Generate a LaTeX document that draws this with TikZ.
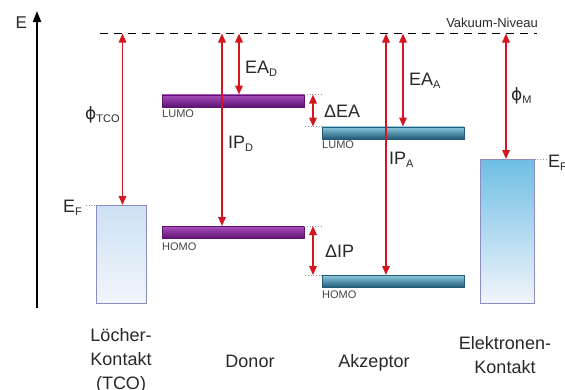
\documentclass[tikz,border=0pt]{standalone}
\usepackage{fontspec}
\setmainfont{Liberation Sans}
\newfontfamily\phifont{DejaVu Sans}
\usetikzlibrary{arrows.meta}
\definecolor{arrred}{RGB}{214,22,30}
\definecolor{txt}{RGB}{40,40,40}
\definecolor{smalltxt}{RGB}{70,70,70}
\definecolor{purTop}{RGB}{170,80,190}
\definecolor{purMid}{RGB}{140,40,160}
\definecolor{purBot}{RGB}{95,20,115}
\definecolor{tealTop}{RGB}{140,205,225}
\definecolor{tealMid}{RGB}{70,150,185}
\definecolor{tealBot}{RGB}{35,90,120}
\definecolor{boxBorder}{RGB}{140,140,190}
\definecolor{tcoTop}{RGB}{205,225,243}
\definecolor{tcoBot}{RGB}{242,245,251}
\definecolor{ekTop}{RGB}{110,190,228}
\definecolor{ekMid}{RGB}{165,210,238}
\definecolor{ekBot}{RGB}{242,245,251}
\definecolor{dotgray}{RGB}{150,150,150}
\newcommand{\sublabel}[2]{{\fontsize{18pt}{20pt}\selectfont #1}\raisebox{-3pt}{\fontsize{11pt}{12pt}\selectfont #2}}
\newcommand{\myphi}{{\phifont\fontsize{17pt}{20pt}\selectfont ϕ}}
\begin{document}
\begin{tikzpicture}[x=1pt,y=-1pt,
  redarr/.style={draw=arrred,line width=1.6pt,{Triangle[length=9pt,width=7.5pt]}-{Triangle[length=9pt,width=7.5pt]}},
  dbar/.style={minimum width=142pt,minimum height=12pt,inner sep=0pt,top color=purTop,middle color=purMid,bottom color=purBot,draw=purBot,line width=0.3pt,anchor=north west},
  abar/.style={minimum width=142pt,minimum height=12pt,inner sep=0pt,top color=tealTop,middle color=tealMid,bottom color=tealBot,draw=tealBot,line width=0.3pt,anchor=north west},
  lvl/.style={font=\fontsize{11pt}{12pt}\selectfont,text=smalltxt,inner sep=0pt,anchor=base west},
  lbl/.style={text=txt,inner sep=0pt,anchor=base west},
  big/.style={font=\fontsize{18pt}{24pt}\selectfont,text=txt,inner sep=0pt,align=center},
  dotline/.style={draw=dotgray,line width=0.7pt,dotted}]
\useasboundingbox (0,0) rectangle (565,389);
% energy axis
\coordinate (axB) at (37,308);
\coordinate (axT) at (37,11);
\draw[line width=2pt,-{Triangle[length=11pt,width=8pt]}] (axB) -- (axT);
\node[lbl,font=\fontsize{17pt}{18pt}\selectfont] (Elab) at (15.5,28) {E};
% vacuum level
\coordinate (vacL) at (100,33.5);
\coordinate (vacR) at (537,33.5);
\draw[line width=1.6pt,dash pattern=on 8pt off 6pt] (vacL) -- (vacR);
\node[text=txt,inner sep=0pt,anchor=base east,font=\fontsize{13pt}{14pt}\selectfont] (vaclab) at (538,27) {Vakuum-Niveau};
% contacts
\node[draw=boxBorder,line width=0.7pt,top color=tcoTop,bottom color=tcoBot,minimum width=50pt,minimum height=98pt,inner sep=0pt,anchor=north west] (tco) at (96,205) {};
\node[draw=boxBorder,line width=0.7pt,top color=ekTop,middle color=ekMid,bottom color=ekBot,minimum width=54pt,minimum height=144pt,inner sep=0pt,anchor=north west] (ek) at (480,159) {};
% levels
\node[dbar] (dlumo) at (162,94.5) {};
\node[dbar] (dhomo) at (162,226) {};
\node[abar] (alumo) at (322,126.5) {};
\node[abar] (ahomo) at (322,275) {};
\node[lvl] (dlumoL) at (162,117) {LUMO};
\node[lvl] (dhomoL) at (162,250) {HOMO};
\node[lvl] (alumoL) at (322,148) {LUMO};
\node[lvl] (ahomoL) at (322,298) {HOMO};
% Fermi levels
\coordinate (efT) at (86,205);
\draw[dotline] (efT) -- (tco.north west);
\node[lbl] (efTlab) at (63,212) {\sublabel{E}{F}};
\coordinate (efE) at (546,159);
\draw[dotline] (ek.north east) -- (efE);
\node[lbl] (efElab) at (548,167) {\sublabel{E}{F}};
% dotted guides
\draw[dotline] (dlumo.north east) -- (dlumo.north east -| alumo.west);
\draw[dotline] (alumo.north west) -- (alumo.north west -| dlumo.east);
\draw[dotline] (dhomo.north east) -- (dhomo.north east -| ahomo.west);
\draw[dotline] (ahomo.north west) -- (ahomo.north west -| dhomo.east);
% arrows
\coordinate (vTCO) at (122.5,33.5);
\draw[redarr] (vTCO) -- (vTCO |- tco.north);
\coordinate (vIPD) at (222,33.5);
\draw[redarr] (vIPD) -- (vIPD |- dhomo.north);
\coordinate (vEAD) at (239,33.5);
\draw[redarr] (vEAD) -- (vEAD |- dlumo.north);
\coordinate (dEA) at (313,94.5);
\draw[redarr] (dEA) -- (dEA |- alumo.north);
\coordinate (dIP) at (313,226);
\draw[redarr] (dIP) -- (dIP |- ahomo.north);
\coordinate (vIPA) at (386,33.5);
\draw[redarr] (vIPA) -- (vIPA |- ahomo.north);
\coordinate (vEAA) at (403,33.5);
\draw[redarr] (vEAA) -- (vEAA |- alumo.north);
\coordinate (vM) at (506,33.5);
\draw[redarr] (vM) -- (vM |- ek.north);
% arrow labels
\node[lbl] (phiT) at (85,119) {\myphi\raisebox{-3pt}{\fontsize{11pt}{12pt}\selectfont TCO}};
\node[lbl] (eadl) at (245,73) {\sublabel{EA}{D}};
\node[lbl] (ipdl) at (228,148) {\sublabel{IP}{D}};
\node[lbl] (deal) at (324,117) {\sublabel{ΔEA}{}};
\node[lbl] (dipl) at (325,257) {\sublabel{ΔIP}{}};
\node[lbl] (ipal) at (389,164) {\sublabel{IP}{A}};
\node[lbl] (eaal) at (409,85) {\sublabel{EA}{A}};
\node[lbl] (phiM) at (511,100) {\myphi\raisebox{-3pt}{\fontsize{11pt}{12pt}\selectfont M}};
% bottom labels
\node[big,anchor=north] (lk) at (121,328) {Löcher-\\Kontakt\\(TCO)};
\node[big,anchor=base] (don) at (250,367) {Donor};
\node[big,anchor=base] (akz) at (374,367) {Akzeptor};
\node[big,anchor=north] (elk) at (505,336) {Elektronen-\\Kontakt};
\end{tikzpicture}
\end{document}
